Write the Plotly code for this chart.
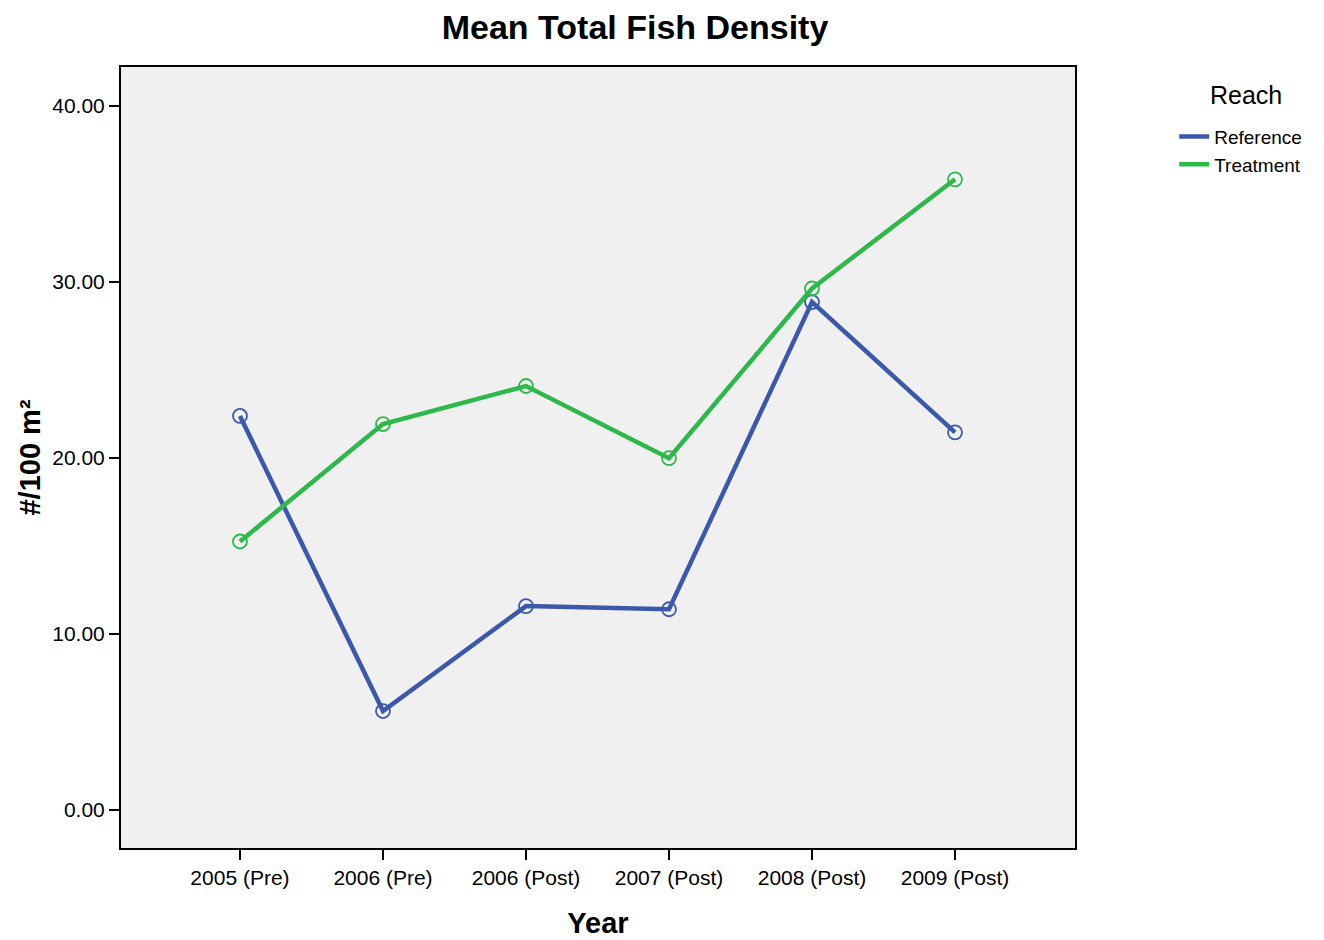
import plotly.graph_objects as go

years = ["2005 (Pre)", "2006 (Pre)", "2006 (Post)", "2007 (Post)", "2008 (Post)", "2009 (Post)"]
reference = [22.38, 5.62, 11.58, 11.40, 28.85, 21.45]
treatment = [15.25, 21.92, 24.08, 19.98, 29.62, 35.82]
y_ticks = [0, 10, 20, 30, 40]
y_tick_labels = ["0.00", "10.00", "20.00", "30.00", "40.00"]

blue = "#3C58AC"
green = "#2DB84A"
font_family = "Liberation Sans, Arial, sans-serif"

fig = go.Figure()
xi = list(range(len(years)))
for name, vals, col in [("Reference", reference, blue), ("Treatment", treatment, green)]:
    fig.add_trace(go.Scatter(x=xi, y=vals, mode="lines", name=name,
                             line=dict(color=col, width=4.5)))
    fig.add_trace(go.Scatter(x=xi, y=vals, mode="markers", showlegend=False,
                             marker=dict(symbol="circle-open", size=14, color=col,
                                         line=dict(width=1.8, color=col)),
                             hoverinfo="skip"))

fig.add_annotation(text="Reach", xref="paper", yref="paper", x=1.1792, y=0.9641,
                   xanchor="center", yanchor="middle", showarrow=False,
                   font=dict(size=25, family=font_family, color="black"))

fig.update_layout(
    width=1324, height=940,
    paper_bgcolor="white", plot_bgcolor="#F0F0F0",
    margin=dict(l=113, r=257, t=59, b=100),
    font=dict(family=font_family, size=21, color="black"),
    title=dict(text="<b>Mean Total Fish Density</b>", x=0.4736, xanchor="center",
               y=0.9798, yanchor="middle",
               font=dict(size=34, family=font_family)),
    xaxis=dict(range=[-0.832, 5.839], tickmode="array", tickvals=xi, ticktext=years,
               ticks="outside", ticklen=10, tickwidth=2, tickcolor="black",
               showline=True, linecolor="black", linewidth=2, mirror=True,
               showgrid=False, zeroline=False,
               title=dict(text="<b>Year</b>", font=dict(size=29), standoff=24),
               tickfont=dict(size=21)),
    yaxis=dict(range=[-2.16, 42.2], tickmode="array", tickvals=y_ticks, ticktext=y_tick_labels,
               ticks="outside", ticklen=10, tickwidth=2, tickcolor="black",
               showline=True, linecolor="black", linewidth=2, mirror=True,
               showgrid=False, zeroline=False,
               title=dict(text="<b>#/100 m²</b>", font=dict(size=29), standoff=3),
               tickfont=dict(size=21)),
    legend=dict(x=1.104, xanchor="left", y=0.9350, yanchor="top",
                font=dict(size=19), bgcolor="rgba(0,0,0,0)",
                tracegroupgap=0, itemwidth=30),
)

fig.write_html("out.html")
